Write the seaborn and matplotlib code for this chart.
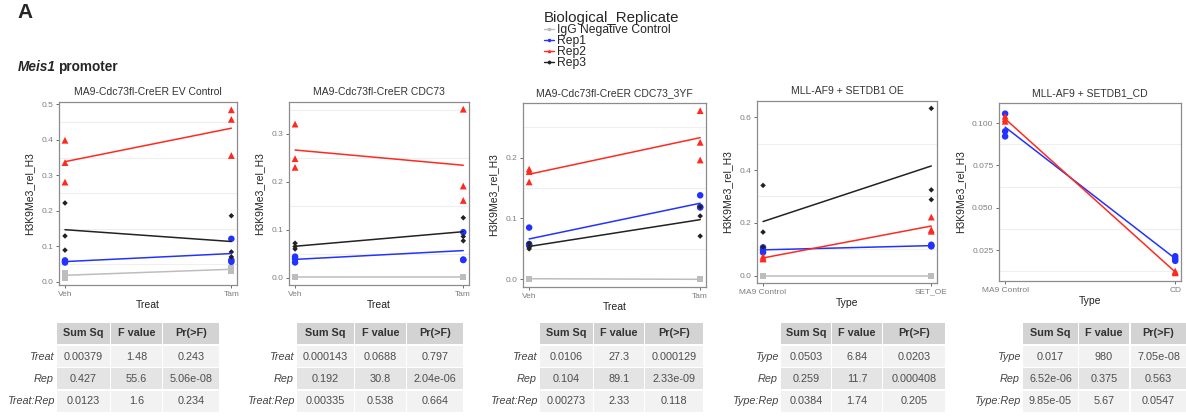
import matplotlib
matplotlib.use("Agg")
import matplotlib.pyplot as plt
import pandas as pd
import seaborn as sns
from matplotlib.lines import Line2D
from matplotlib.patches import Rectangle
from matplotlib.ticker import FormatStrFormatter

# ---- data ---------------------------------------------------------------
REPS = ["IgG Negative Control", "Rep1", "Rep2", "Rep3"]
REP_COLORS = {"IgG Negative Control": "#bdbdbd", "Rep1": "#2233ff",
              "Rep2": "#ff2a1f", "Rep3": "#222222"}
REP_MARKERS = {"IgG Negative Control": "s", "Rep1": "o", "Rep2": "^", "Rep3": "D"}
REP_SIZES = {"IgG Negative Control": 18, "Rep1": 22, "Rep2": 24, "Rep3": 8}

titles = ["MA9-Cdc73fl-CreER EV Control", "MA9-Cdc73fl-CreER CDC73",
          "MA9-Cdc73fl-CreER CDC73_3YF", "MLL-AF9 + SETDB1 OE", "MLL-AF9 + SETDB1_CD"]
x_names = ["Treat", "Treat", "Treat", "Type", "Type"]
x_levels = [["Veh", "Tam"], ["Veh", "Tam"], ["Veh", "Tam"],
            ["MA9 Control", "SET_OE"], ["MA9 Control", "CD"]]

# replicate -> (values at first level, values at second level)
ev_control = {
    "IgG Negative Control": ([0.025, 0.011, 0.018], [0.040, 0.035, 0.030]),
    "Rep1": ([0.060, 0.056, 0.054], [0.121, 0.061, 0.056]),
    "Rep2": ([0.399, 0.336, 0.281], [0.485, 0.458, 0.356]),
    "Rep3": ([0.222, 0.129, 0.089], [0.186, 0.084, 0.070]),
}
cdc73 = {
    "IgG Negative Control": ([0.001, 0.001, 0.001], [0.001, 0.001, 0.001]),
    "Rep1": ([0.044, 0.039, 0.032], [0.095, 0.038, 0.037]),
    "Rep2": ([0.320, 0.248, 0.230], [0.351, 0.191, 0.161]),
    "Rep3": ([0.072, 0.065, 0.060], [0.125, 0.086, 0.077]),
}
cdc73_3yf = {
    "IgG Negative Control": ([0.001, 0.001, 0.001], [0.000, 0.000, 0.000]),
    "Rep1": ([0.085, 0.058, 0.056], [0.138, 0.119, 0.118]),
    "Rep2": ([0.181, 0.177, 0.160], [0.277, 0.225, 0.196]),
    "Rep3": ([0.059, 0.053, 0.050], [0.119, 0.104, 0.071]),
}
setdb1_oe = {
    "IgG Negative Control": ([0.000, 0.000, 0.000], [0.000, 0.000, 0.000]),
    "Rep1": ([0.107, 0.098, 0.088], [0.117, 0.113, 0.111]),
    "Rep2": ([0.073, 0.065, 0.063], [0.222, 0.174, 0.168]),
    "Rep3": ([0.342, 0.165, 0.108], [0.634, 0.325, 0.288]),
}
setdb1_cd = {
    "Rep1": ([0.1055, 0.0951, 0.0921], [0.0214, 0.0200, 0.0187]),
    "Rep2": ([0.1040, 0.1024, 0.1010], [0.0126, 0.0122, 0.0116]),
}
panels = [ev_control, cdc73, cdc73_3yf, setdb1_oe, setdb1_cd]

y_ticks = [[0, 0.1, 0.2, 0.3, 0.4, 0.5], [0, 0.1, 0.2, 0.3], [0, 0.1, 0.2],
           [0, 0.2, 0.4, 0.6], [0.025, 0.05, 0.075, 0.1]]
y_fmt = ["%.1f", "%.1f", "%.1f", "%.1f", "%.3f"]
y_lims = [(-0.0094, 0.507), (-0.015, 0.366), (-0.0126, 0.2896),
          (-0.028, 0.662), (0.0068, 0.1118)]

# ANOVA tables
table_header = ["Sum Sq", "F value", "Pr(>F)"]
treat_terms = ["Treat", "Rep", "Treat:Rep"]
type_terms = ["Type", "Rep", "Type:Rep"]
anova_ev = [["0.00379", "1.48", "0.243"], ["0.427", "55.6", "5.06e-08"], ["0.0123", "1.6", "0.234"]]
anova_cdc73 = [["0.000143", "0.0688", "0.797"], ["0.192", "30.8", "2.04e-06"], ["0.00335", "0.538", "0.664"]]
anova_3yf = [["0.0106", "27.3", "0.000129"], ["0.104", "89.1", "2.33e-09"], ["0.00273", "2.33", "0.118"]]
anova_oe = [["0.0503", "6.84", "0.0203"], ["0.259", "11.7", "0.000408"], ["0.0384", "1.74", "0.205"]]
anova_cd = [["0.017", "980", "7.05e-08"], ["6.52e-06", "0.375", "0.563"], ["9.85e-05", "5.67", "0.0547"]]
anova_tables = [anova_ev, anova_cdc73, anova_3yf, anova_oe, anova_cd]
anova_terms = [treat_terms, treat_terms, treat_terms, type_terms, type_terms]

# ---- layout (pixels) ----------------------------------------------------
W, H = 1186, 418
axes_px = [(59, 102, 237, 285), (289, 102, 469, 285), (523, 103, 706, 287),
           (757, 101, 937, 283), (999, 103, 1181, 281)]
table_cols = [[(57, 110), (111, 162), (163, 219)],
              [(297, 354), (355, 406), (407, 463)],
              [(540, 593), (594, 644), (645, 703)],
              [(781, 831), (832, 882), (883, 945)],
              [(1023, 1078), (1079, 1129), (1131, 1186)]]
table_rows = [(323, 344), (346, 367), (368, 389), (391, 412)]
row_colors = ["#f2f2f2", "#e4e4e4", "#f2f2f2"]

sns.set_theme(style="white")
plt.rcParams["font.family"] = ["Liberation Sans", "DejaVu Sans"]

fig = plt.figure(figsize=(W / 100, H / 100), dpi=100)

for i, data in enumerate(panels):
    rows = []
    for rep, (first, second) in data.items():
        for lvl, vals in zip(x_levels[i], (first, second)):
            for v in vals:
                rows.append({"level": lvl, "rep": rep, "value": v})
    df = pd.DataFrame(rows)
    df["level"] = pd.Categorical(df["level"], categories=x_levels[i])

    x0, y0, x1, y1 = axes_px[i]
    ax = fig.add_axes([x0 / W, 1 - y1 / H, (x1 - x0) / W, (y1 - y0) / H])

    sns.scatterplot(data=df, x="level", y="value", hue="rep", style="rep", size="rep",
                    palette=REP_COLORS, markers=REP_MARKERS, sizes=REP_SIZES,
                    linewidth=0, legend=False, ax=ax, zorder=3)
    sns.lineplot(data=df, x="level", y="value", hue="rep", palette=REP_COLORS,
                 estimator="mean", errorbar=None, linewidth=1.1, legend=False,
                 ax=ax, zorder=4)

    ax.set_xlim(-0.036, 1.034)
    ax.set_ylim(*y_lims[i])
    ax.set_yticks(y_ticks[i])
    ax.yaxis.set_major_formatter(FormatStrFormatter(y_fmt[i]))
    # faint lines halfway between the ticks, like ggplot minor grid
    step = y_ticks[i][1] - y_ticks[i][0]
    m = y_ticks[i][0] - step / 2
    while m < y_lims[i][1]:
        if m > y_lims[i][0]:
            ax.axhline(m, color="#efefef", lw=0.8, zorder=0)
        m += step

    for s in ax.spines.values():
        s.set_color("#8c8c8c")
        s.set_linewidth(0.9)
    ax.tick_params(bottom=True, left=True, length=2.5, width=0.6, color="#555555",
                   labelcolor="#7f7f7f", labelsize=6, pad=1.5)
    ax.set_title(titles[i], fontsize=7.5, color="#333333", pad=5)
    ax.set_xlabel(x_names[i], fontsize=7.5, color="#222222", labelpad=2)
    ax.set_ylabel("H3K9Me3_rel_H3", fontsize=7.5, color="#222222", labelpad=5)

# ---- overlay in pixel coordinates for text and tables --------------------
ov = fig.add_axes([0, 0, 1, 1])
ov.set_xlim(0, W)
ov.set_ylim(H, 0)
ov.set_axis_off()

ov.text(17, 13, "A", fontsize=15, fontweight="bold", va="center", ha="left")
t1 = ov.text(18, 67, "Meis1", fontsize=9.8, fontweight="bold", fontstyle="italic",
             va="center", ha="left")
bb = t1.get_window_extent(fig.canvas.get_renderer())
ov.text(bb.x1 + 2, 67, "promoter", fontsize=9.8, fontweight="bold", va="center", ha="left")

for t in range(5):
    cols = table_cols[t]
    for c, (cx0, cx1) in enumerate(cols):
        ry0, ry1 = table_rows[0]
        ov.add_patch(Rectangle((cx0, ry0), cx1 - cx0, ry1 - ry0, color="#d3d3d3", lw=0))
        ov.text((cx0 + cx1) / 2, (ry0 + ry1) / 2, table_header[c], fontsize=7.8,
                fontweight="bold", color="#333333", ha="center", va="center")
    for r in range(3):
        ry0, ry1 = table_rows[r + 1]
        ov.text(cols[0][0] - 3, (ry0 + ry1) / 2, anova_terms[t][r], fontsize=7.8,
                fontstyle="italic", color="#444444", ha="right", va="center")
        for c, (cx0, cx1) in enumerate(cols):
            ov.add_patch(Rectangle((cx0, ry0), cx1 - cx0, ry1 - ry0, color=row_colors[r], lw=0))
            ov.text((cx0 + cx1) / 2, (ry0 + ry1) / 2, anova_tables[t][r][c], fontsize=7.8,
                    color="#4d4d4d", ha="center", va="center")

# ---- legend -------------------------------------------------------------
handles = [Line2D([0], [0], color=REP_COLORS[r], lw=1, marker=REP_MARKERS[r],
                  markersize=1.5) for r in REPS]
leg = fig.legend(handles, REPS, title="Biological_Replicate", loc="upper left",
                 bbox_to_anchor=(538 / W, 1 - 5 / H), frameon=False, fontsize=8.7,
                 title_fontsize=10.8, handlelength=0.8, handletextpad=0.3,
                 labelspacing=-0.08, borderpad=0, alignment="left")

fig.savefig("out.png", dpi=100)
